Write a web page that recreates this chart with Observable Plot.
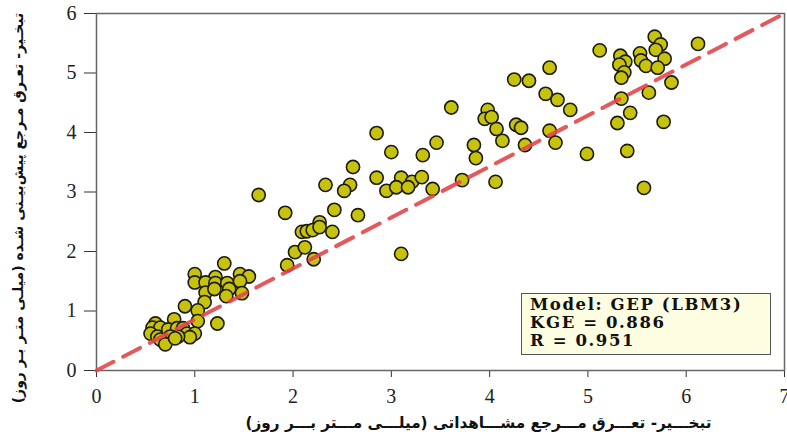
<!DOCTYPE html>
<html>
<head>
<meta charset="utf-8">
<script src="https://cdn.jsdelivr.net/npm/d3@7"></script>
<script src="https://cdn.jsdelivr.net/npm/@observablehq/plot@0.6"></script>
<style>
  html, body { margin: 0; padding: 0; background: #fff; }
  #wrap { position: relative; width: 787px; height: 441px; overflow: hidden; }
  #legend {
    position: absolute; left: 521px; top: 293px; width: 250px; height: 62px;
    background: #fdfde2; border: 1px solid #555; box-sizing: border-box;
    font-family: "DejaVu Serif", "Liberation Serif", serif; font-weight: bold;
    font-size: 16.5px; line-height: 18px; letter-spacing: 1.6px; padding: 2px 0 0 8px; color: #111;
    white-space: nowrap;
  }
</style>
</head>
<body>
<div id="wrap"></div>
<script>
// Observed reference ET (mm/day)
const observed = [
  1.30,1.00,1.21,1.46,1.55,1.00,1.11,1.21,1.33,1.46,1.11,1.20,1.35,1.32,1.48,1.10,0.90,1.03,1.03,1.23,
  0.79,0.60,0.57,0.65,0.55,0.62,0.73,0.82,0.88,0.92,1.00,0.95,0.83,0.75,0.65,0.70,0.80,
  2.85,3.00,3.32,3.46,2.61,2.85,3.10,3.21,3.31,2.95,3.05,3.17,3.42,2.33,2.58,2.52,1.65,1.92,2.42,2.66,
  2.27,2.09,2.14,2.20,2.27,2.40,2.02,2.12,2.21,1.94,3.10,
  5.12,5.33,5.38,5.32,5.53,5.54,5.59,5.68,5.74,5.69,5.78,5.71,5.37,5.34,5.85,5.62,5.34,5.43,5.30,5.77,
  4.99,5.40,5.57,4.61,4.25,4.40,4.57,4.69,4.82,3.61,3.98,3.95,4.02,4.07,4.27,4.32,4.61,4.67,4.13,4.36,
  3.84,3.86,3.72,4.06,6.12
];
// GEP (LBM3) predicted reference ET (mm/day)
const predicted = [
  1.80,1.62,1.57,1.62,1.58,1.48,1.48,1.47,1.47,1.50,1.31,1.37,1.37,1.25,1.30,1.15,1.08,1.01,0.83,0.79,
  0.86,0.79,0.72,0.72,0.62,0.57,0.69,0.71,0.71,0.62,0.62,0.56,0.57,0.57,0.52,0.44,0.54,
  3.99,3.67,3.62,3.83,3.42,3.24,3.24,3.17,3.25,3.02,3.08,3.08,3.05,3.12,3.12,3.02,2.95,2.65,2.70,2.61,
  2.49,2.33,2.34,2.36,2.41,2.33,1.99,2.07,1.87,1.77,1.96,
  5.38,5.29,5.19,5.14,5.33,5.21,5.12,5.61,5.48,5.39,5.24,5.09,5.01,4.92,4.84,4.67,4.57,4.33,4.16,4.18,
  3.64,3.69,3.07,5.09,4.89,4.87,4.65,4.55,4.38,4.42,4.38,4.23,4.26,4.06,4.13,4.08,4.03,3.83,3.86,3.79,
  3.79,3.57,3.20,3.17,5.49
];
// Reference dashed line (frame diagonal)
const lineX = [0, 7];
const lineY = [0, 6];
const xTicks = [0, 1, 2, 3, 4, 5, 6, 7];
const yTicks = [0, 1, 2, 3, 4, 5, 6];
const xTitle = "تبخـــیر- تعـــرق مـــرجع مشـــاهداتی (میلـــی مـــتر بـــر روز)";
const yTitle = "تبخـیر- تعـرق مـرجع پیش‌بیـنی شـده (میلـی متـر بـر روز)";
const legendLines = ["Model: GEP (LBM3)", "KGE = 0.886", "R = 0.951"];

const points = observed.map((o, i) => ({o, p: predicted[i]}));
const diag = lineX.map((x, i) => ({x, y: lineY[i]}));

const chart = Plot.plot({
  width: 787,
  height: 441,
  marginLeft: 96,
  marginRight: 3,
  marginTop: 13,
  marginBottom: 71,
  style: {fontFamily: "Liberation Serif", fontSize: "19px", color: "#222", background: "#fff"},
  x: {domain: [0, 7]},
  y: {domain: [0, 6]},
  marks: [
    Plot.axisX({ticks: xTicks, tickFormat: d => String(d), tickSize: 7, tickPadding: 11, label: null, stroke: "#333", fontSize: 20}),
    Plot.axisY({ticks: yTicks, tickFormat: d => String(d), tickSize: 12, tickPadding: 8, label: null, stroke: "#333", fontSize: 20}),
    Plot.frame({stroke: "#666", strokeWidth: 1.5}),
    Plot.dot(points, {x: "o", y: "p", r: 6.6, fill: "#c7c30c", stroke: "#1b1b10", strokeWidth: 1.6}),
    Plot.line(diag, {x: "x", y: "y", stroke: "#e2474b", strokeWidth: 4, strokeDasharray: "19,11", strokeOpacity: 0.9}),
    Plot.text([xTitle], {text: d => d, frameAnchor: "bottom", textAnchor: "middle", dx: 38, dy: 57, fontFamily: "DejaVu Sans", fontWeight: "bold", fontSize: 15.3, fill: "#111"}),
    Plot.text([yTitle], {text: d => d, frameAnchor: "left", textAnchor: "middle", rotate: -90, dx: -78, dy: 16, fontFamily: "DejaVu Sans", fontWeight: "bold", fontSize: 14, fill: "#111"})
  ]
});

const wrap = document.getElementById("wrap");
wrap.appendChild(chart);
const legend = document.createElement("div");
legend.id = "legend";
legend.innerHTML = legendLines.map(s => `<div>${s}</div>`).join("");
wrap.appendChild(legend);
</script>
</body>
</html>
